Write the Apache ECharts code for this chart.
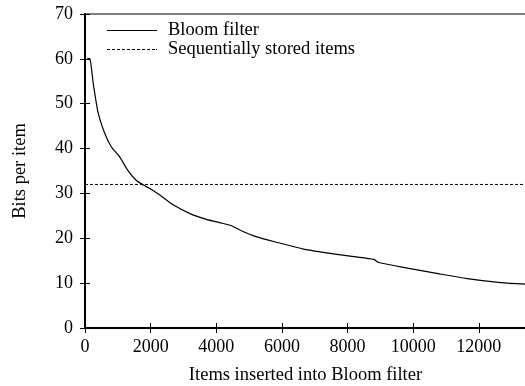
<!DOCTYPE html>
<html><head><meta charset="utf-8">
<script src="https://cdn.jsdelivr.net/npm/echarts@6/dist/echarts.min.js"></script>
<style>html,body{margin:0;padding:0;background:#fff}#c{width:525px;height:386px}</style>
</head><body><div id="c"></div>
<script>
var bloomX = [70, 150, 250, 400, 600, 800, 1050, 1300, 1550, 1800, 2000, 2290, 2700, 3200, 3700, 4100, 4430, 4730, 5240, 5900, 6660, 7680, 8200, 8800, 8950, 9870, 10630, 11650, 12670, 13440];
var bloomY = [60.1, 60, 54.6, 48, 43.4, 40.4, 38.2, 35.2, 33.0, 31.8, 31.0, 29.6, 27.4, 25.5, 24.2, 23.5, 22.9, 21.8, 20.3, 19.0, 17.6, 16.4, 15.9, 15.3, 14.6, 13.3, 12.3, 11.0, 10.1, 9.75];
var seqX = [0, 13440];
var seqY = [32, 32];
var xMax = 13440;
var seriesNames = ['Bloom filter', 'Sequentially stored items'];
var xTitle = 'Items inserted into Bloom filter';
var yTitle = 'Bits per item';

var font = 'Liberation Serif';
var chart = echarts.init(document.getElementById('c'));
function pairs(xs, ys){ return xs.map(function(x,i){return [x, ys[i]];}); }
var solidIcon = 'path://M0,0H50V1H0Z';
var dashIcon = 'path://';
for (var i = 0; i < 50; i += 5) { dashIcon += 'M' + i + ',0H' + (i + 3) + 'V1H' + i + 'Z'; }
dashIcon += 'M49,0H50V1H49Z';
var titleText = {color:'#000', fontFamily:font, fontSize:18.5};
var tickText = {color:'#000', fontFamily:font, fontSize:18};
chart.setOption({
  animation:false,
  grid:{left:85, right:-1, top:14, bottom:58, show:true, borderColor:'#000', borderWidth:1, outerBoundsMode:'none', containLabel:false},
  legend:{
    left:107, top:21, padding:0, orient:'vertical', itemWidth:50, itemHeight:1, itemGap:0,
    textStyle:{fontFamily:font, fontSize:18.5, lineHeight:19, color:'#000', padding:[0,0,0,6]},
    data:[{name:seriesNames[0], icon:solidIcon}, {name:seriesNames[1], icon:dashIcon}]
  },
  xAxis:[{
    type:'value', min:0, max:xMax, interval:2000, position:'bottom',
    name:xTitle, nameLocation:'middle', nameGap:38, nameTextStyle:titleText,
    axisLine:{show:true, onZero:false, lineStyle:{color:'#000', width:2}},
    axisTick:{show:true, inside:true, length:5, lineStyle:{color:'#000'}},
    axisLabel:Object.assign({margin:10, showMaxLabel:false, formatter:function(v){return String(v);}}, tickText),
    splitLine:{show:false}
  },{
    type:'value', min:0, max:xMax, interval:2000, position:'top',
    axisLine:{show:true, lineStyle:{color:'#000', width:1}},
    axisTick:{show:true, inside:true, length:5, lineStyle:{color:'#000'}},
    axisLabel:{show:false}, splitLine:{show:false}
  }],
  yAxis:[{
    type:'value', min:0, max:70, interval:10, position:'left',
    name:yTitle, nameLocation:'middle', nameGap:55, nameTextStyle:titleText,
    axisLine:{show:true, onZero:false, lineStyle:{color:'#000', width:2}},
    axisTick:{show:true, inside:true, length:5, lineStyle:{color:'#000'}},
    axisLabel:Object.assign({margin:12, formatter:function(v){return String(v);}}, tickText),
    splitLine:{show:false}
  },{
    type:'value', min:0, max:70, interval:10, position:'right',
    axisLine:{show:true, lineStyle:{color:'#000', width:1}},
    axisTick:{show:true, inside:true, length:5, lineStyle:{color:'#000'}},
    axisLabel:{show:false}, splitLine:{show:false}
  }],
  series:[{
    name:seriesNames[0], type:'line', data:pairs(bloomX, bloomY), symbol:'none', smooth:0.25,
    lineStyle:{color:'#000', width:1.2}, itemStyle:{color:'#000'}
  },{
    name:seriesNames[1], type:'line', data:pairs(seqX, seqY), symbol:'none',
    lineStyle:{color:'#000', width:1, type:[3,2]}, itemStyle:{color:'#000'}
  }]
});
</script></body></html>
